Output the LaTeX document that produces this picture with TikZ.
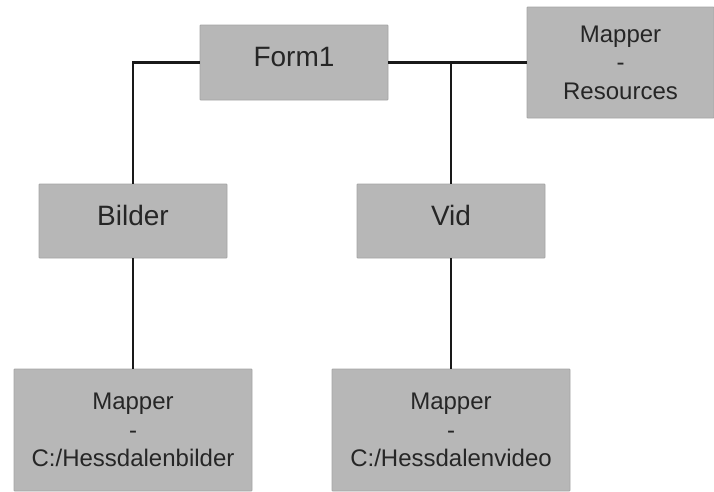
\documentclass[tikz,border=0pt]{standalone}
\usepackage{fontspec}
\setmainfont{Liberation Sans}
\usetikzlibrary{positioning,calc}
\definecolor{boxgray}{HTML}{B7B7B7}
\definecolor{boxedge}{HTML}{A4A4A4}
\definecolor{textgray}{HTML}{262626}

\begin{document}
\begin{tikzpicture}[x=1pt,y=-1pt,
  box/.style={draw=boxedge,fill=boxgray,line width=0.8pt,rounded corners=0.8pt,
    align=center,inner sep=0pt,text=textgray},
  bigbox/.style={box,minimum width=188pt,minimum height=75pt,
    font=\fontsize{28}{34}\selectfont,text height=20pt,text depth=12pt},
  dirbox/.style={box,font=\fontsize{24}{28.5}\selectfont},
  link/.style={line width=2.4pt,black!90}]
  \useasboundingbox (0,0) rectangle (714,491);
  \clip (0,0) rectangle (714,491);

  % Top row
  \node[bigbox] (form) at (294,62.5) {Form1};
  \node[dirbox,minimum width=187pt,minimum height=111pt] (mapres) at (620.5,62.5)
    {Mapper\\-\\Resources};

  % Middle row
  \node[bigbox,minimum height=74pt] (bilder) at (133,221) {Bilder};
  \node[bigbox,minimum height=74pt] (vid) at (451,221) {Vid};

  % Folders
  \node[dirbox,minimum width=238pt,minimum height=122pt] (mapbilder) at (133,430)
    {Mapper\\-\\C:/Hessdalenbilder};
  \node[dirbox,minimum width=238pt,minimum height=122pt] (mapvideo) at (451,430)
    {Mapper\\-\\C:/Hessdalenvideo};

  % Connectors
  \draw[link] (form.west) -| (bilder.north);
  \draw[link] (form.east) -- (mapres.west);
  \draw[link] (form.east) -| (vid.north);
  \draw[link] (bilder.south) -- (mapbilder.north);
  \draw[link] (vid.south) -- (mapvideo.north);
\end{tikzpicture}
\end{document}
